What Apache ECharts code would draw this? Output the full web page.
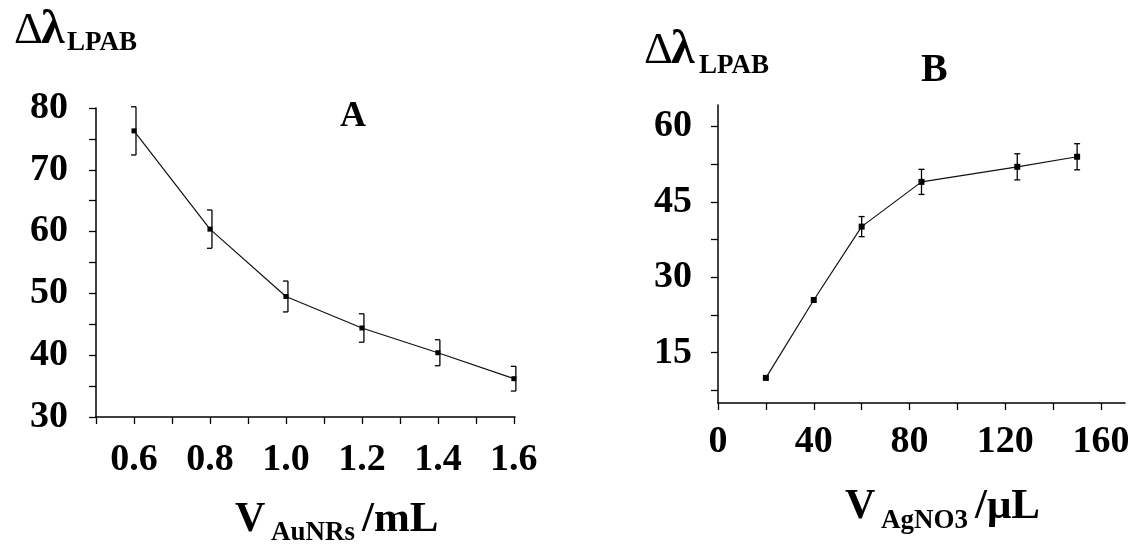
<!DOCTYPE html>
<html>
<head>
<meta charset="utf-8">
<script src="https://cdn.jsdelivr.net/npm/echarts@6/dist/echarts.min.js"></script>
<style>
html,body{margin:0;padding:0;background:#fff;}
#chart{width:1139px;height:547px;}
</style>
</head>
<body>
<div id="chart"></div>
<script>
// ---- Data ----
const aX = [0.6, 0.8, 1.0, 1.2, 1.4, 1.6];
const aY = [76.3, 60.4, 49.5, 44.4, 40.4, 36.2];
const aErr = [3.9, 3.1, 2.5, 2.3, 2.1, 2.0];
const aLabelTicks = [0.6, 0.8, 1.0, 1.2, 1.4, 1.6];
const aMinorTicks = [0.5, 0.6, 0.7, 0.8, 0.9, 1.0, 1.1, 1.2, 1.3, 1.4, 1.5, 1.6];

const bX = [20, 40, 60, 85, 125, 150];
const bY = [10.0, 25.5, 40.1, 49.0, 52.0, 54.0];
const bErr = [0, 0, 2.0, 2.5, 2.6, 2.6];
const bYLabels = [15, 30, 45, 60];
const bYTicks = [7.5, 15, 22.5, 30, 37.5, 45, 52.5, 60];
const bXLabels = [0, 40, 80, 120, 160];
const bXTicks = [0, 20, 40, 60, 80, 100, 120, 140, 160];

const FONT = 'Liberation Serif';
const labelStyle = {color: '#000', fontFamily: FONT, fontWeight: 'bold', fontSize: 38};
const axLine = {show: true, onZero: false, lineStyle: {color: '#000', width: 1.5}};

function errRender(leftCaps) {
  return function (params, api) {
    const x = api.value(0), y = api.value(1), e = api.value(2);
    if (!e) return null;
    const t = api.coord([x, y + e]);
    const b = api.coord([x, y - e]);
    const style = {stroke: '#000', lineWidth: 1.3};
    if (leftCaps) {
      const vx = t[0] + 2;
      return {type: 'group', children: [
        {type: 'line', shape: {x1: vx, y1: t[1], x2: vx, y2: b[1]}, style},
        {type: 'line', shape: {x1: vx - 5, y1: t[1], x2: vx, y2: t[1]}, style},
        {type: 'line', shape: {x1: vx - 5, y1: b[1], x2: vx, y2: b[1]}, style}
      ]};
    }
    return {type: 'group', children: [
      {type: 'line', shape: {x1: t[0], y1: t[1], x2: b[0], y2: b[1]}, style},
      {type: 'line', shape: {x1: t[0] - 3, y1: t[1], x2: t[0] + 3, y2: t[1]}, style},
      {type: 'line', shape: {x1: b[0] - 3, y1: b[1], x2: b[0] + 3, y2: b[1]}, style}
    ]};
  };
}

function txt(text, x, y, size, weight) {
  return {type: 'text', x: x, y: y, style: {text: text, fill: '#000', font: (weight || 'bold') + ' ' + size + 'px "' + FONT + '"', textVerticalAlign: 'middle', textAlign: 'left'}};
}

const chart = echarts.init(document.getElementById('chart'));
chart.setOption({
  backgroundColor: '#fff',
  animation: false,
  grid: [
    {left: 96, top: 108, width: 419, height: 309},
    {left: 718, top: 105, width: 407, height: 298}
  ],
  xAxis: [
    {gridIndex: 0, type: 'value', min: 0.5, max: 1.603, axisLine: axLine,
     axisTick: {show: true, length: 7, lineStyle: {color: '#000', width: 1.3}, customValues: aMinorTicks},
     axisLabel: Object.assign({margin: 24, customValues: aLabelTicks, formatter: v => v.toFixed(1)}, labelStyle),
     splitLine: {show: false}},
    {gridIndex: 1, type: 'value', min: 0, max: 170, axisLine: axLine,
     axisTick: {show: true, length: 7, lineStyle: {color: '#000', width: 1.3}, customValues: bXTicks},
     axisLabel: Object.assign({margin: 20, customValues: bXLabels}, labelStyle),
     splitLine: {show: false}}
  ],
  yAxis: [
    {gridIndex: 0, type: 'value', min: 30, max: 80, interval: 10, axisLine: axLine,
     axisTick: {show: true, length: 7, lineStyle: {color: '#000', width: 1.3}},
     minorTick: {show: true, splitNumber: 2, length: 7, lineStyle: {color: '#000', width: 1.3}},
     axisLabel: Object.assign({margin: 28, padding: [0, 0, 12, 0]}, labelStyle),
     splitLine: {show: false}, minorSplitLine: {show: false}},
    {gridIndex: 1, type: 'value', min: 5, max: 64.3, axisLine: axLine,
     axisTick: {show: true, length: 7, lineStyle: {color: '#000', width: 1.3}, customValues: bYTicks},
     axisLabel: Object.assign({margin: 26, customValues: bYLabels}, labelStyle),
     splitLine: {show: false}}
  ],
  series: [
    {type: 'line', xAxisIndex: 0, yAxisIndex: 0, data: aX.map((x, i) => [x, aY[i]]),
     symbol: 'rect', symbolSize: 5, itemStyle: {color: '#000'}, lineStyle: {color: '#111', width: 1.2}},
    {type: 'custom', xAxisIndex: 0, yAxisIndex: 0, data: aX.map((x, i) => [x, aY[i], aErr[i]]),
     renderItem: errRender(true)},
    {type: 'line', xAxisIndex: 1, yAxisIndex: 1, data: bX.map((x, i) => [x, bY[i]]),
     symbol: 'rect', symbolSize: 6, itemStyle: {color: '#000'}, lineStyle: {color: '#111', width: 1.2}},
    {type: 'custom', xAxisIndex: 1, yAxisIndex: 1, data: bX.map((x, i) => [x, bY[i], bErr[i]]),
     renderItem: errRender(false)}
  ],
  graphic: [
    // Panel A texts
    txt('Δ', 14, 31, 45, 'normal'),
    txt('λ', 41, 31, 48, 'bold'),
    txt('LPAB', 67, 43, 27, 'bold'),
    txt('A', 340, 117, 36, 'bold'),
    txt('V', 235, 520, 42, 'bold'),
    txt('AuNRs', 271, 533, 27, 'bold'),
    txt('/mL', 362, 520, 43, 'bold'),
    // Panel B texts
    txt('Δ', 644, 51, 45, 'normal'),
    txt('λ', 671, 51, 48, 'bold'),
    txt('LPAB', 699, 66, 27, 'bold'),
    txt('B', 921, 71, 40, 'bold'),
    txt('V', 845, 507, 42, 'bold'),
    txt('AgNO3', 881, 521, 27, 'bold'),
    txt('/μL', 975, 507, 43, 'bold')
  ]
});
</script>
</body>
</html>
